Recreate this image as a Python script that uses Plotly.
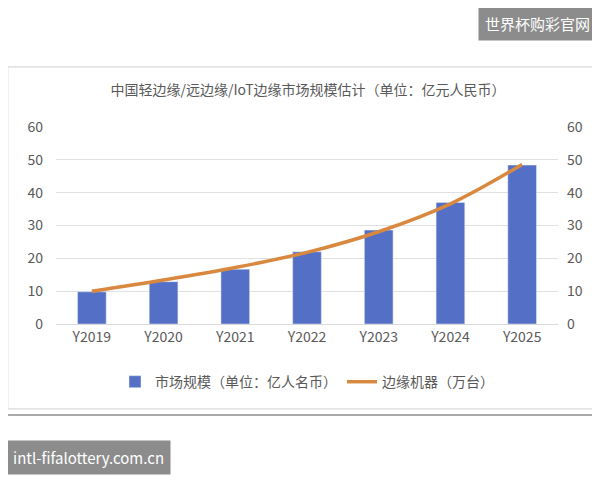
import plotly.graph_objects as go

years = ['Y2019', 'Y2020', 'Y2021', 'Y2022', 'Y2023', 'Y2024', 'Y2025']
market_size = [9.8, 12.9, 16.7, 22.0, 28.6, 37.0, 48.4]
machines = [10.0, 13.4, 17.2, 21.8, 28.1, 36.6, 48.6]

font = 'Noto Sans CJK SC'
grey = '#595959'

fig = go.Figure()
fig.add_trace(go.Bar(x=years, y=market_size, name='市场规模（单位：亿人名币）',
                     marker_color='#5470c6', width=0.4))
fig.add_trace(go.Scatter(x=years, y=machines, name='边缘机器（万台）', mode='lines',
                         line=dict(color='#d9883f', width=3.5, shape='spline'), yaxis='y2'))

axis_common = dict(range=[0, 60], dtick=10, tickfont=dict(size=14, color=grey, family=font),
                   showline=False, zeroline=False, automargin=False)
fig.update_layout(
    width=600, height=480,
    paper_bgcolor='white', plot_bgcolor='white',
    margin=dict(l=48, r=50, t=119, b=164, autoexpand=False),
    font=dict(family=font, color=grey),
    title=dict(text='中国轻边缘/远边缘/IoT边缘市场规模估计（单位：亿元人民币）', x=0.5, y=0.829,
               xanchor='center', yanchor='middle', font=dict(size=14, color=grey)),
    xaxis=dict(tickfont=dict(size=14, color=grey, family=font), showline=True,
               linecolor='#d9d9d9', ticks='', automargin=False),
    yaxis=dict(**axis_common, gridcolor='#e0e0e0', ticklabelstandoff=12),
    yaxis2=dict(**axis_common, overlaying='y', side='right', showgrid=False, ticklabelstandoff=8),
    legend=dict(orientation='h', x=0.5, xanchor='center', y=-0.295, yanchor='middle',
                font=dict(size=14, color=grey)),
    showlegend=True,
    shapes=[
        dict(type='rect', xref='paper', yref='paper', x0=-0.096, x1=1.07, y0=-0.431, y1=1.305,
             line=dict(color='#d0d0d0', width=1)),
        dict(type='line', xref='paper', yref='paper', x0=-0.12, x1=1.12, y0=-0.462, y1=-0.462,
             line=dict(color='#555', width=1)),
    ],
    annotations=[
        dict(text='世界杯购彩官网', xref='paper', yref='paper', x=1.078, y=1.614, xanchor='right',
             yanchor='top', showarrow=False, bgcolor='#8c8c8c', borderpad=6,
             font=dict(size=15, color='white')),
        dict(text='intl-fifalottery.com.cn', xref='paper', yref='paper', x=-0.1, y=-0.588,
             xanchor='left', yanchor='top', showarrow=False, bgcolor='#8c8c8c', borderpad=6,
             font=dict(size=15, color='white')),
    ],
)

fig.write_html('out.html')
